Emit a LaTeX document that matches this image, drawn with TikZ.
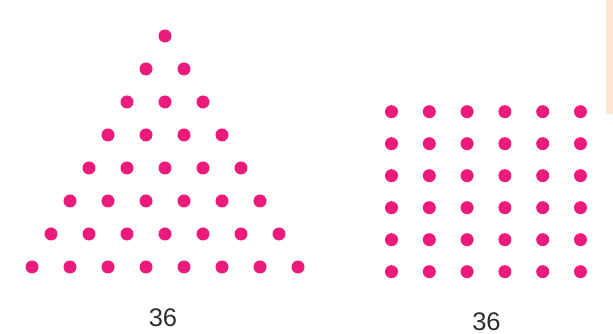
\documentclass[tikz,border=0pt]{standalone}
\usepackage{fontspec}
\setmainfont{Liberation Sans}
\usepackage{xcolor}
\usepackage{tikz}
\definecolor{DotPink}{HTML}{EC1A7B}
\definecolor{NumGray}{HTML}{2E2E2E}
\definecolor{EdgePeach}{HTML}{FAE6D2}

\begin{document}
\begin{tikzpicture}[x=1cm,y=1cm]
\path[use as bounding box] (0,0) rectangle (12.26,6.68);
\fill[EdgePeach] (12.12,6.68) rectangle (12.26,4.40);
% triangle: rows of 1 to 8
\foreach \r in {0,...,7}{
  \foreach \i in {0,...,\r}{
    \fill[DotPink] ({3.30+0.76*(\i-\r/2)},{5.96-0.66*\r}) circle (0.13);
  }
}
% square: 6 by 6
\foreach \c in {0,...,5}{
  \foreach \r in {0,...,5}{
    \fill[DotPink] ({7.83+0.756*\c},{4.446-0.64*\r}) circle (0.13);
  }
}
\node[NumGray,font=\fontsize{14.5}{17}\selectfont] (triNum) at (3.26,0.32) {36};
\node[NumGray,font=\fontsize{14.5}{17}\selectfont] (sqNum) at (9.73,0.25) {36};
\end{tikzpicture}
\end{document}
